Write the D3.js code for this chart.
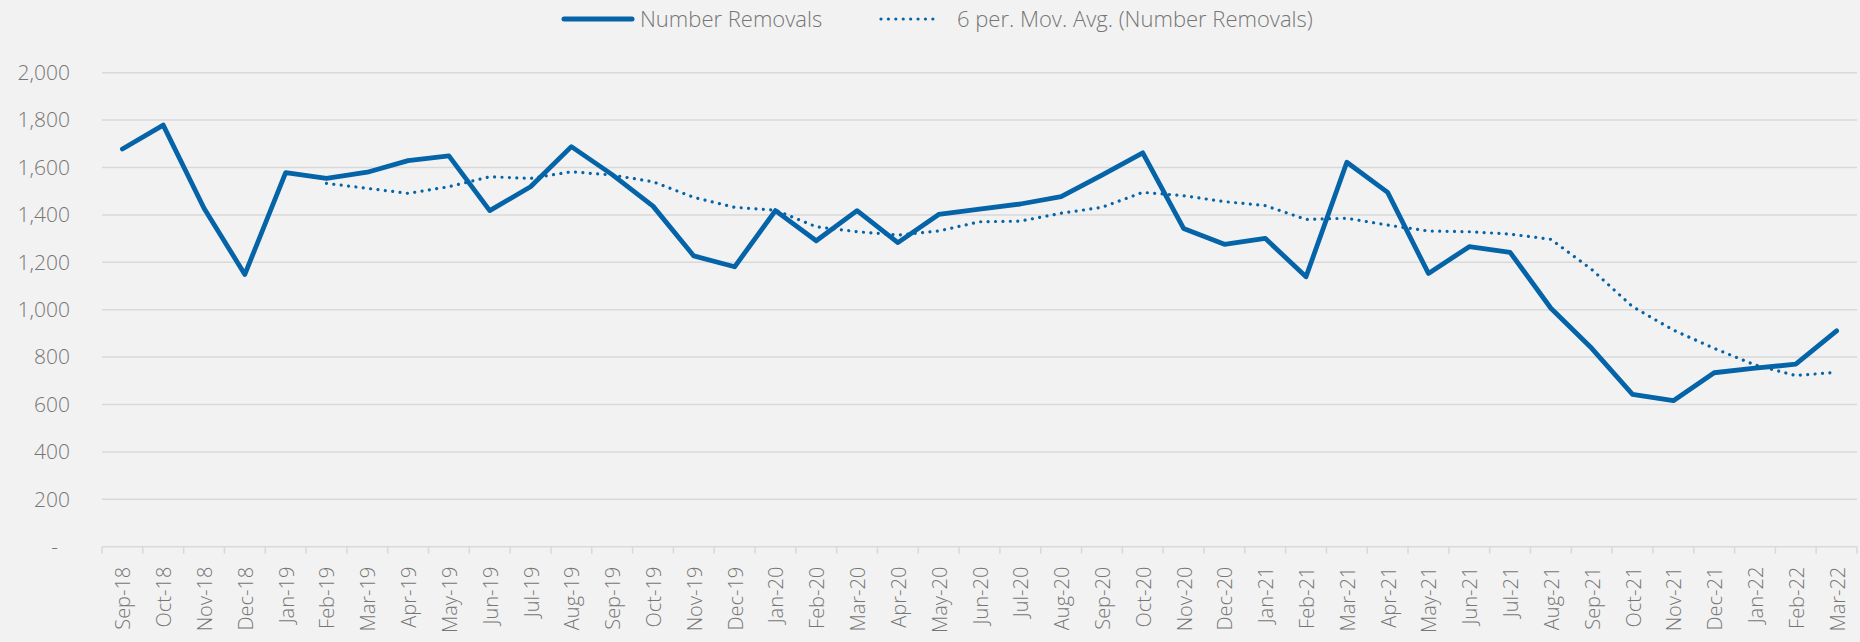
<!DOCTYPE html>
<html>
<head>
<meta charset="utf-8">
<script src="https://cdn.jsdelivr.net/npm/d3@7"></script>
<style>
  body { margin: 0; background: #f2f2f2; }
  svg { display: block; font-family: "Open Sans", sans-serif; font-weight: 300; }
</style>
</head>
<body>
<div id="main"></div>
<script>
const months = ["Sep-18","Oct-18","Nov-18","Dec-18","Jan-19","Feb-19","Mar-19","Apr-19","May-19","Jun-19","Jul-19","Aug-19",
  "Sep-19","Oct-19","Nov-19","Dec-19","Jan-20","Feb-20","Mar-20","Apr-20","May-20","Jun-20","Jul-20","Aug-20",
  "Sep-20","Oct-20","Nov-20","Dec-20","Jan-21","Feb-21","Mar-21","Apr-21","May-21","Jun-21","Jul-21","Aug-21",
  "Sep-21","Oct-21","Nov-21","Dec-21","Jan-22","Feb-22","Mar-22"];

const removals = [1678,1779,1428,1149,1578,1554,1580,1629,1649,1418,1519,1688,
  1570,1437,1227,1181,1418,1291,1418,1283,1402,1424,1446,1477,
  1568,1662,1343,1276,1301,1139,1622,1495,1153,1266,1242,1006,
  837,643,616,734,753,770,911];

// moving average trendline, starts at Feb-19
const movAvg = [null,null,null,null,null,1533,1512,1491,1519,1561,1554,1582,
  1568,1540,1474,1432,1420,1350,1329,1315,1332,1371,1374,1407,
  1432,1495,1481,1456,1439,1381,1386,1357,1332,1329,1319,1297,
  1170,1013,914,837,767,722,736];

const yTicks = [0,200,400,600,800,1000,1200,1400,1600,1800,2000];

const W = 1860, H = 642;
const margin = {left: 102, right: 3, top: 72.7, bottom: 95.3};
const blue = "#0563a8";

const svg = d3.select("#main").append("svg").attr("width", W).attr("height", H);

const x = d3.scaleBand().domain(months).range([margin.left, W - margin.right]);
const y = d3.scaleLinear().domain([0, 2000]).range([H - margin.bottom, margin.top]);

// gridlines
svg.append("g").selectAll("line").data(yTicks.filter(d => d > 0)).join("line")
  .attr("x1", margin.left).attr("x2", W - margin.right)
  .attr("y1", d => y(d)).attr("y2", d => y(d))
  .attr("stroke", "#d9d9d9").attr("stroke-width", 1.5);

// y labels
svg.append("g").selectAll("text").data(yTicks).join("text")
  .attr("x", d => d === 0 ? 58 : 70)
  .attr("y", d => y(d))
  .attr("dy", "0.35em")
  .attr("text-anchor", "end")
  .attr("fill", "#767676")
  .attr("font-size", 21)
  .text(d => d === 0 ? "-" : d3.format(",")(d));

// x axis
const xAxis = svg.append("g").attr("transform", `translate(0,${y(0)})`);
xAxis.append("line").attr("x1", margin.left).attr("x2", W - margin.right)
  .attr("stroke", "#d9d9d9").attr("stroke-width", 1.5);
const bounds = months.map(m => x(m)).concat([W - margin.right]);
xAxis.selectAll("line.tick").data(bounds).join("line").attr("class", "tick")
  .attr("x1", d => d).attr("x2", d => d).attr("y1", 0).attr("y2", 7)
  .attr("stroke", "#d9d9d9").attr("stroke-width", 1.5);
xAxis.selectAll("text").data(months).join("text")
  .attr("transform", d => `translate(${x(d) + x.bandwidth() / 2 + 1},20) rotate(-90)`)
  .attr("text-anchor", "end")
  .attr("dy", "0.35em")
  .attr("fill", "#767676")
  .attr("font-size", 20)
  .text(d => d);

const cx = d => x(d) + x.bandwidth() / 2;

// moving average
const maLine = d3.line().defined(d => d[1] != null).x(d => cx(d[0])).y(d => y(d[1]));
svg.append("path").datum(months.map((m, i) => [m, movAvg[i]]))
  .attr("d", maLine).attr("fill", "none").attr("stroke", blue)
  .attr("stroke-width", 3.2).attr("stroke-linecap", "round").attr("stroke-dasharray", "0.01 7.4");

// main series
const line = d3.line().x(d => cx(d[0])).y(d => y(d[1]));
svg.append("path").datum(months.map((m, i) => [m, removals[i]]))
  .attr("d", line).attr("fill", "none").attr("stroke", blue)
  .attr("stroke-width", 4.8).attr("stroke-linejoin", "round").attr("stroke-linecap", "round");

// legend
const leg = svg.append("g");
leg.append("line").attr("x1", 564).attr("x2", 632).attr("y1", 19).attr("y2", 19)
  .attr("stroke", blue).attr("stroke-width", 5).attr("stroke-linecap", "round");
leg.append("text").attr("x", 640).attr("y", 19).attr("dy", "0.35em")
  .attr("fill", "#767676").attr("font-size", 22).text("Number Removals");
leg.append("line").attr("x1", 881).attr("x2", 940).attr("y1", 19).attr("y2", 19)
  .attr("stroke", blue).attr("stroke-width", 3.2).attr("stroke-linecap", "round")
  .attr("stroke-dasharray", "0.01 7.4");
leg.append("text").attr("x", 957).attr("y", 19).attr("dy", "0.35em")
  .attr("fill", "#767676").attr("font-size", 22).text("6 per. Mov. Avg. (Number Removals)");
</script>
</body>
</html>
